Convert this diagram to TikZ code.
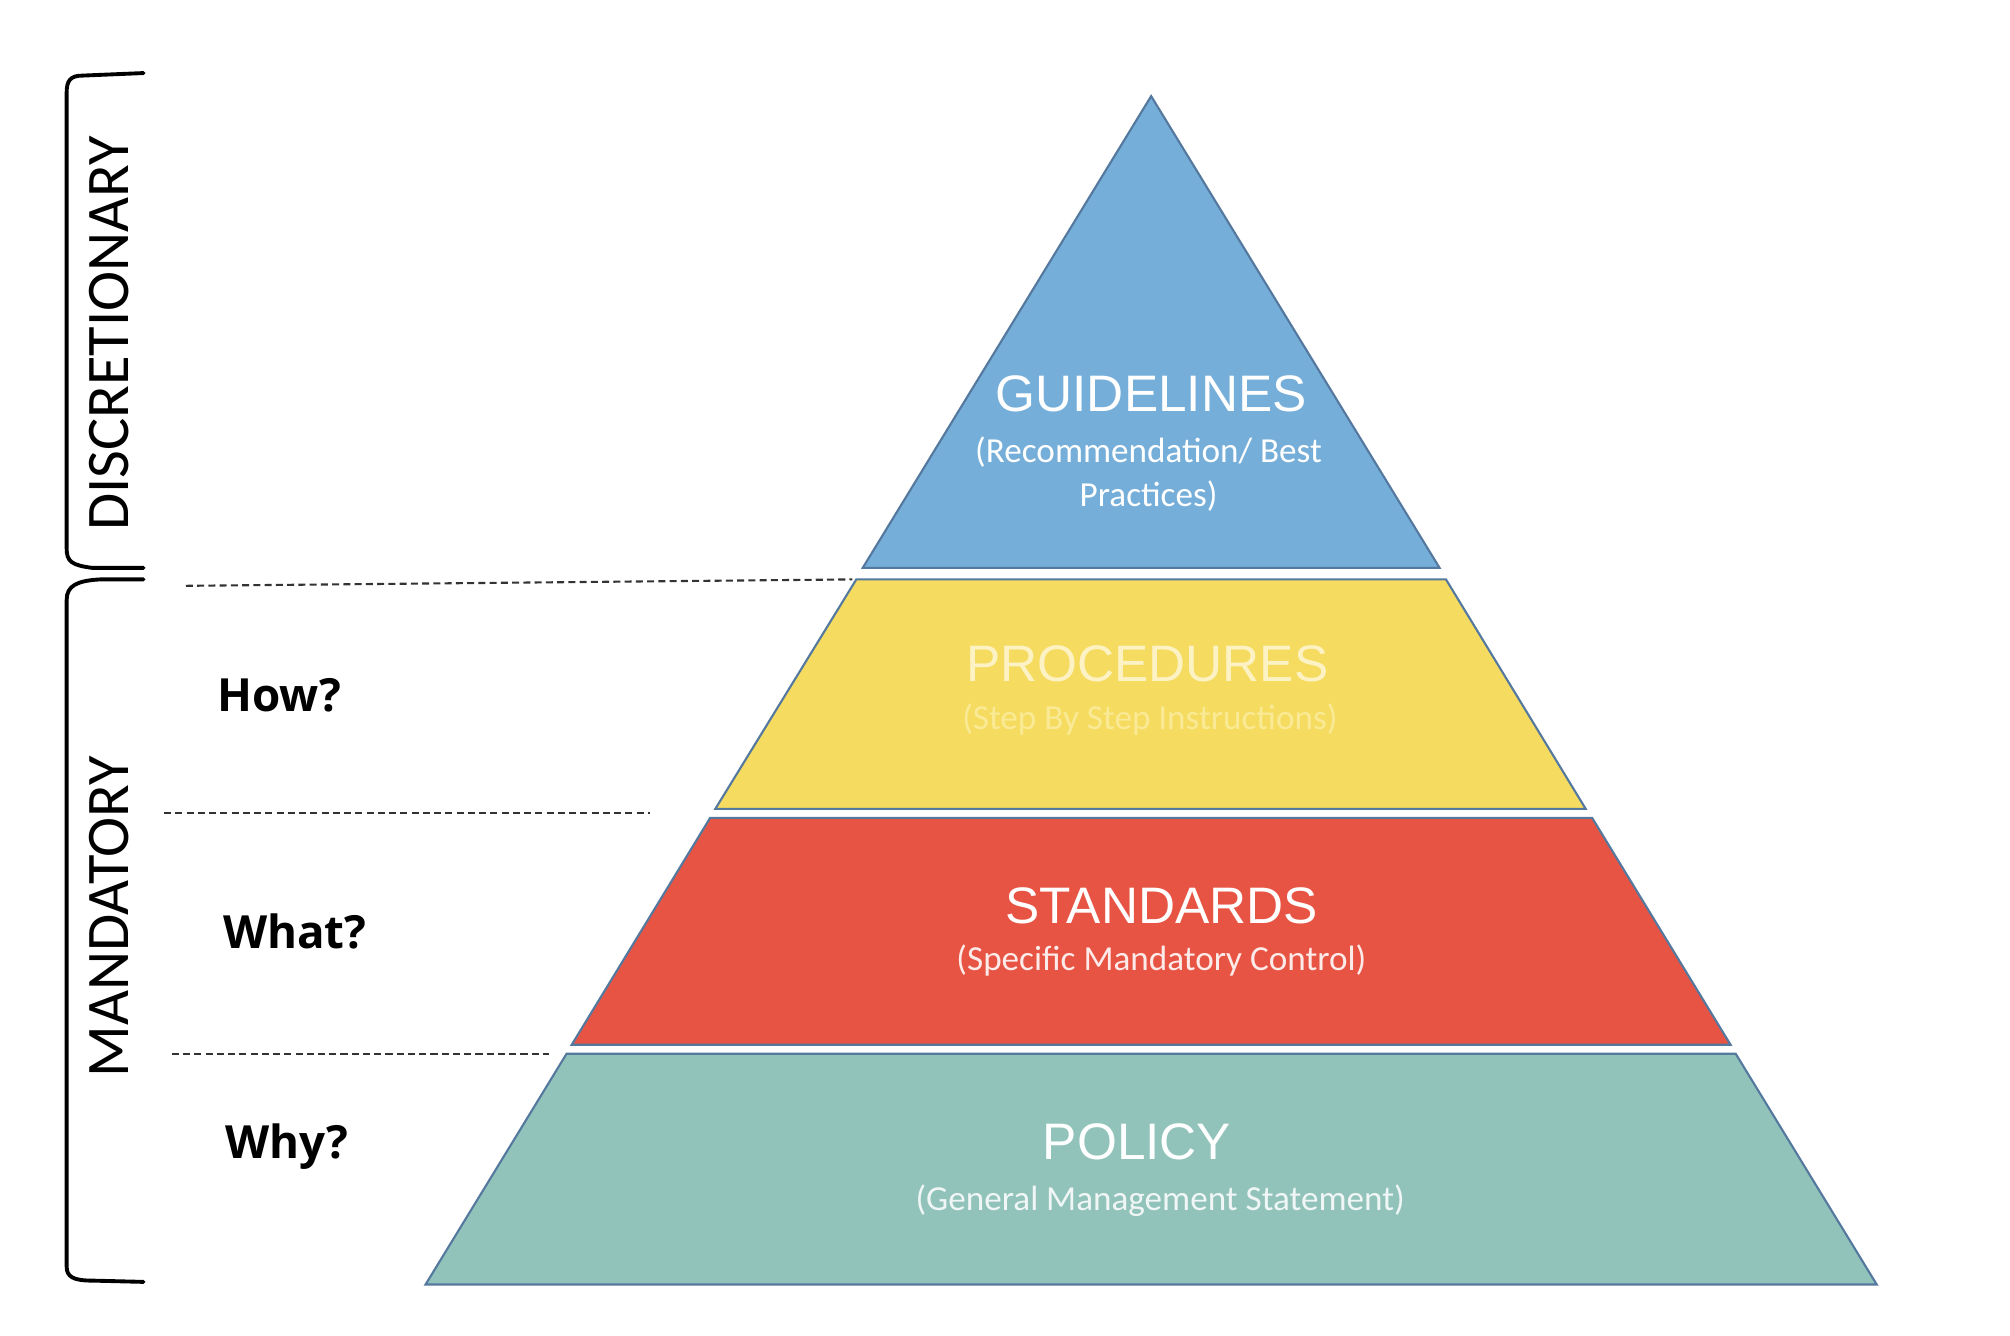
\documentclass[tikz,border=0pt]{standalone}
\usepackage{fontspec}
\setmainfont{Carlito}
\newfontfamily\headfont{Liberation Sans}
\newfontfamily\askfont{Open Sans}
\usetikzlibrary{positioning}

\definecolor{cblue}{RGB}{117,174,216}
\definecolor{cyellow}{RGB}{245,220,96}
\definecolor{cred}{RGB}{232,84,68}
\definecolor{cteal}{RGB}{146,195,186}
\definecolor{cedge}{RGB}{84,120,158}
\definecolor{ptext}{RGB}{252,242,196}
\definecolor{psub}{RGB}{250,234,150}

\begin{document}
\begin{tikzpicture}[x=0.01282cm, y=-0.01282cm, thick,
  layer/.style = {draw=cedge, line width=0.6pt},
  title/.style = {font=\headfont\fontsize{14.6}{17}\selectfont, text=white},
  sub/.style = {font=\fontsize{10}{12.6}\selectfont, text=white, align=center},
  side/.style = {font=\fontsize{17.2}{20}\selectfont, rotate=90},
  ask/.style = {font=\askfont\bfseries\fontsize{13}{15}\selectfont},
  sep/.style = {dash pattern=on 2pt off 1.2pt, line width=0.6pt, draw=black!80},
  brace/.style = {line width=1.1pt, line cap=round}]

\fill[white] (0,0) rectangle (1568,1042);
\useasboundingbox (0,0) rectangle (1568,1042);

% pyramid layers
\fill[cblue, layer] (898,75) -- (1123,443) -- (673,443) -- cycle;
\fill[cyellow, layer] (668,452) -- (1128,452) -- (1237,631) -- (558,631) -- cycle;
\fill[cred, layer] (554,638) -- (1242,638) -- (1350,815) -- (446,815) -- cycle;
\fill[cteal, layer] (442,822) -- (1354,822) -- (1464,1002) -- (332,1002) -- cycle;

\node[title] (g1) at (898,307) {GUIDELINES};
\node[sub] (g2) at (896,370) {(Recommendation/ Best\\Practices)};
\node[title, text=ptext] (p1) at (895,518) {PROCEDURES};
\node[sub, text=psub] (p2) at (897,561) {(Step By Step Instructions)};
\node[title] (s1) at (906,707) {STANDARDS};
\node[sub, text=white!88!cred] (s2) at (906,749) {(Specific Mandatory Control)};
\node[title] (l1) at (887,891) {POLICY};
\node[sub, text=white!85!cteal] (l2) at (905,937) {(General Management Statement)};

% dashed level lines
\coordinate (d1) at (145,457);
\coordinate (e1) at (665,452);
\coordinate (d2) at (128,634);
\coordinate (e2) at (507,634);
\coordinate (d3) at (134,822);
\coordinate (e3) at (428,822);
\draw[sep] (d1) -- (e1);
\draw[sep] (d2) -- (e2);
\draw[sep] (d3) -- (e3);

\node[ask] (q1) at (218,542) {How?};
\node[ask] (q2) at (230,727) {What?};
\node[ask, anchor=base] (q3) at (224,904) {Why?};

% side brackets
\draw[brace] (112,57) -- (64,59) .. controls (55,59) and (52,63) .. (52,72) -- (52,428)
  .. controls (52,438) and (56,441) .. (72,443) -- (112,443);
\draw[brace] (112,452) -- (78,452) .. controls (60,453) and (52,457) .. (52,468) -- (52,988)
  .. controls (52,996) and (57,999) .. (72,999) -- (112,1000);
\node[side] (t1) at (85,260) {DISCRETIONARY};
\node[side] (t2) at (85,715) {MANDATORY};
\end{tikzpicture}
\end{document}
